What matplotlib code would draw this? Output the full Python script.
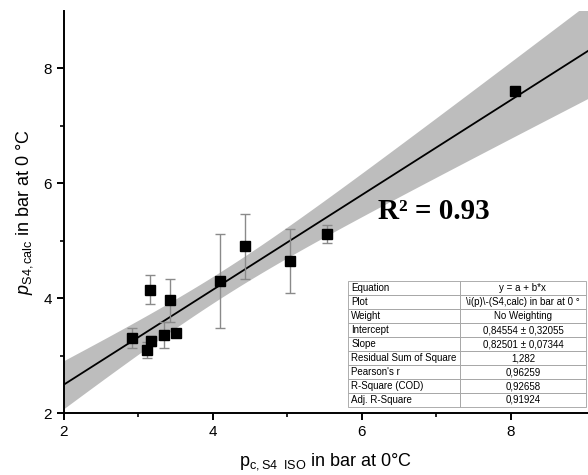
import matplotlib
matplotlib.use('Agg')
import matplotlib.pyplot as plt
import numpy as np

plt.rcParams['font.family'] = ['Liberation Sans', 'DejaVu Sans']
plt.rcParams['mathtext.fontset'] = 'custom'
plt.rcParams['mathtext.rm'] = 'Liberation Sans'
plt.rcParams['mathtext.it'] = 'Liberation Sans:italic'

p_iso = [2.92, 3.16, 3.12, 3.17, 3.43, 3.34, 3.505, 4.10, 4.43, 5.03, 5.53, 8.06]
p_calc = [3.31, 4.15, 3.09, 3.25, 3.96, 3.36, 3.40, 4.30, 4.90, 4.65, 5.11, 7.61]
p_err = [0.17, 0.26, 0.14, 0.09, 0.38, 0.23, 0.0, 0.82, 0.56, 0.56, 0.155, 0.0]

# Fit-Tabelle
table_labels = ['Equation', 'Plot', 'Weight', 'Intercept', 'Slope',
                'Residual Sum of Square', "Pearson's r", 'R-Square (COD)', 'Adj. R-Square']
table_values = ['y = a + b*x', r'\i(p)\-(S4,calc) in bar at 0 °', 'No Weighting',
                '0,84554 ± 0,32055', '0,82501 ± 0,07344', '1,282',
                '0,96259', '0,92658', '0,91924']
intercept = 0.84554
slope = 0.82501
r2_text = 'R² = 0.93'

x = np.array(p_iso)
y = np.array(p_calc)
n = len(x)
res = y - (intercept + slope * x)
s = np.sqrt(np.sum(res**2) / (n - 2))
sxx = np.sum((x - x.mean())**2)
t95 = 2.228  # t(0.975, 10)

fig = plt.figure(figsize=(5.88, 4.75), dpi=100)
ax = fig.add_axes([0.1088, 0.1305, 0.8912, 0.8465])
ax.set_xlim(2, 9.04)
ax.set_ylim(2, 9.0)

xf = np.linspace(1.9, 9.2, 200)
yf = intercept + slope * xf
hw = t95 * s * np.sqrt(1.0 / n + (xf - x.mean())**2 / sxx)
ax.fill_between(xf, yf - hw, yf + hw, color='#bdbdbd', lw=0, zorder=1)
ax.plot(xf, yf, color='black', lw=1.3, zorder=2)

ax.errorbar(p_iso, p_calc, yerr=p_err, fmt='none', ecolor='#8a8a8a',
            elinewidth=1.0, capsize=3.5, capthick=1.0, zorder=3)
ax.plot(p_iso, p_calc, 's', color='black', ms=7.5, zorder=4)

ax.text(6.22, 5.37, r2_text, family='Liberation Serif', fontweight='bold',
        fontsize=21, ha='left', va='baseline')

for side in ['top', 'right']:
    ax.spines[side].set_visible(False)
for side in ['left', 'bottom']:
    ax.spines[side].set_linewidth(1.4)

ax.set_xticks([2, 4, 6, 8])
ax.set_yticks([2, 4, 6, 8])
ax.set_xticks([3, 5, 7], minor=True)
ax.set_yticks([3, 5, 7], minor=True)
ax.tick_params(which='major', direction='out', length=5, width=1.4, labelsize=11)
ax.tick_params(which='minor', direction='out', length=3, width=1.2)

ax.set_xlabel(r'p$_{\mathrm{c,S4\ \ ISO}}$ in bar at 0°C', fontsize=13, labelpad=9)
ax.set_ylabel(r'$\it{p}$$_{\mathrm{S4,calc}}$ in bar at 0 °C', fontsize=13, labelpad=6)

tbl = ax.table(cellText=[[a, b] for a, b in zip(table_labels, table_values)],
               colWidths=[112, 126], bbox=[0.542, 0.015, 0.454, 0.313],
               cellLoc='left', zorder=5)
tbl.auto_set_font_size(False)
tbl.set_fontsize(7)
for (r, c), cell in tbl.get_celld().items():
    cell.set_edgecolor('#a0a0a0')
    cell.set_linewidth(0.6)
    cell.set_facecolor('white')
    if c == 0:
        cell.PAD = 0.03
    else:
        cell._loc = 'center'
        cell.get_text().set_ha('center')

fig.savefig('out.png', dpi=100)
